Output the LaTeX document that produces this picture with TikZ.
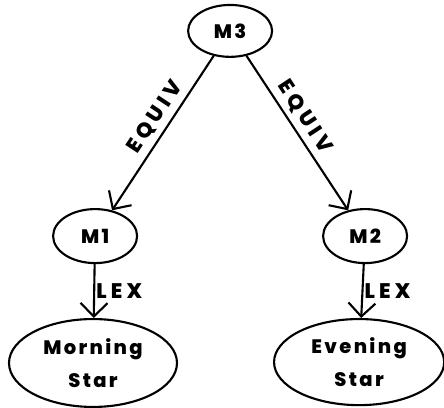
\documentclass[tikz,border=0pt]{standalone}
\usepackage{fontspec}
\setmainfont{Poppins}[LetterSpace=12,BoldFont={* ExtraBold}]
\usetikzlibrary{shapes.geometric,arrows.meta}

\begin{document}
\begin{tikzpicture}[
    every node/.style={font=\bfseries\fontsize{18.5}{31}\selectfont},
    state/.style={draw,ellipse,line width=2pt,inner sep=0pt,align=center},
    tag/.style={font=\bfseries\fontsize{20}{24}\selectfont\addfontfeature{LetterSpace=20}},
    rel/.style={line width=2pt,-{Straight Barb[length=4.5mm,width=9mm]}}]
        \useasboundingbox (0,0) rectangle (14.8,13.6);
        \node[state,minimum width=2.8cm,minimum height=1.73cm] (M3) at (7.67,12.57) {M3};
        \node[state,minimum width=2.8cm,minimum height=1.8cm] (M1) at (3.17,5.73) {M1};
        \node[state,minimum width=2.8cm,minimum height=1.8cm] (M2) at (12.17,5.73) {M2};
        \node[state,minimum width=5.6cm,minimum height=2.93cm] (MS) at (3.1,1.5) {Morning\\Star};
        \node[state,minimum width=5.67cm,minimum height=2.87cm] (ES) at (11.97,1.53) {Evening\\Star};
        \draw[rel] (M3)--(M1) node[tag,pos=0.45,sloped,above=2pt]{EQUIV};
        \draw[rel] (M3)--(M2) node[tag,pos=0.45,sloped,above=2pt]{EQUIV};
        \draw[rel] (M1)--(MS) node[tag,midway,right,inner sep=1pt]{LEX};
        \draw[rel] (M2)--(ES) node[tag,midway,right,inner sep=1pt]{LEX};
\end{tikzpicture}
\end{document}
